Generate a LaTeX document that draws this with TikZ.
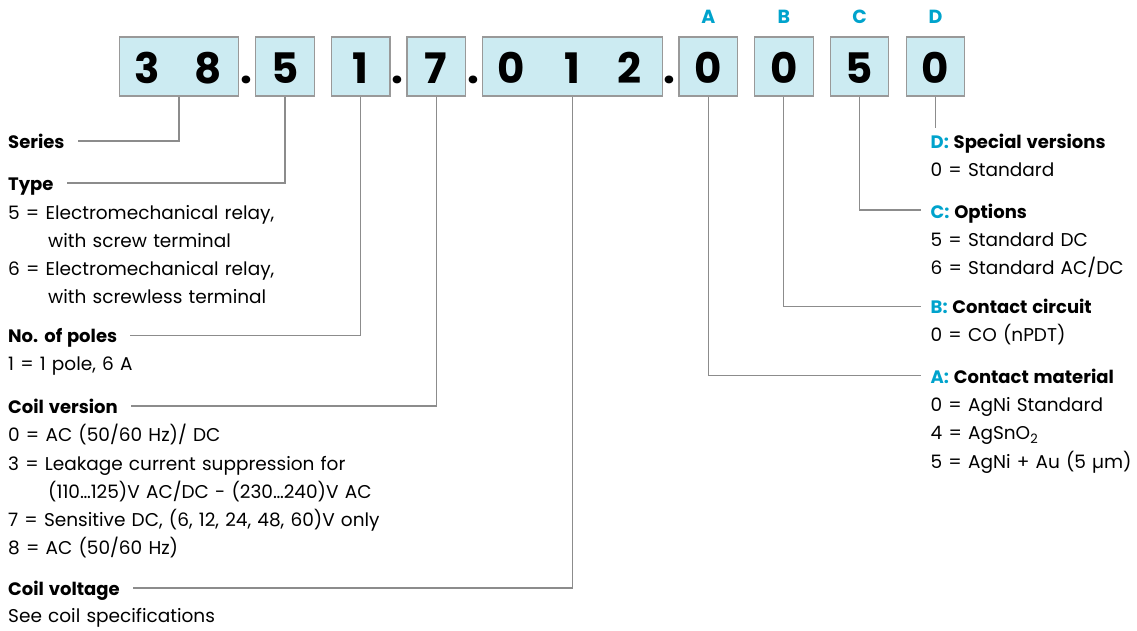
\documentclass[tikz,border=0pt]{standalone}
\usepackage{fontspec}
\setmainfont{Poppins}[Numbers=Monospaced, WordSpace=1.25]
\definecolor{boxfill}{HTML}{CCEBF2}
\definecolor{boxline}{HTML}{999999}
\definecolor{lead}{HTML}{8C8C8C}
\definecolor{keycyan}{HTML}{00A3CC}
\begin{document}
\begin{tikzpicture}[x=1pt,y=-1pt,
  codebox/.style={draw=boxline, fill=boxfill, line width=1.2pt, minimum height=59pt, inner sep=0pt},
  digit/.style={anchor=base, inner sep=0pt, font=\fontsize{42}{42}\selectfont\bfseries},
  keylet/.style={anchor=base, inner sep=0pt, text=keycyan, font=\fontsize{19}{19}\selectfont\bfseries},
  head/.style={anchor=base west, inner sep=0pt, font=\fontsize{18}{18}\selectfont\bfseries},
  body/.style={anchor=base west, inner sep=0pt, font=\fontsize{18.5}{18.5}\selectfont},
  leader/.style={draw=lead, line width=1.2pt}]
\useasboundingbox (0,0) rectangle (1137,630);
% boxes
\node[codebox, minimum width=119.4pt] (b1) at (179,66.5) {};
\node[codebox, minimum width=58.6pt] (b2) at (285,66.5) {};
\node[codebox, minimum width=58.6pt] (b3) at (360.7,66.5) {};
\node[codebox, minimum width=58.6pt] (b4) at (436.2,66.5) {};
\node[codebox, minimum width=180pt] (b5) at (572.3,66.5) {};
\node[codebox, minimum width=58.6pt] (bA) at (708.3,66.5) {};
\node[codebox, minimum width=58.6pt] (bB) at (783.8,66.5) {};
\node[codebox, minimum width=58.6pt] (bC) at (859.5,66.5) {};
\node[codebox, minimum width=58.6pt] (bD) at (935.5,66.5) {};
% digits
\node[digit] (d1) at (147,83) {3};
\node[digit] (d2) at (208,83) {8};
\node[digit] (d3) at (285,83) {5};
\node[digit] (d4) at (360.7,83) {1};
\node[digit] (d5) at (436.2,83) {7};
\node[digit] (d6) at (511,83) {0};
\node[digit] (d7) at (572.3,83) {1};
\node[digit] (d8) at (629,83) {2};
\node[digit] (d9) at (708.3,83) {0};
\node[digit] (d10) at (783.8,83) {0};
\node[digit] (d11) at (859.5,83) {5};
\node[digit] (d12) at (935.5,83) {0};
% dots
\node[digit] (p1) at (246,83) {.};
\node[digit] (p2) at (397.7,83) {.};
\node[digit] (p3) at (473.3,83) {.};
\node[digit] (p4) at (669.3,83) {.};
% key letters
\node[keylet] (kA) at (708.3,23) {A};
\node[keylet] (kB) at (783.8,23) {B};
\node[keylet] (kC) at (859.5,23) {C};
\node[keylet] (kD) at (935.5,23) {D};
% left texts
\node[head] (series) at (8,148) {Series};
\node[head] (type) at (8,190) {Type};
\node[body] (t5) at (8,219) {5 = Electromechanical relay,};
\node[body] (t5b) at (48,247) {with screw terminal};
\node[body] (t6) at (8,275) {6 = Electromechanical relay,};
\node[body] (t6b) at (48,303) {with screwless terminal};
\node[head] (poles) at (8,342.5) {No. of poles};
\node[body] (pl1) at (8,370.5) {1 = 1 pole, 6 A};
\node[head] (coilv) at (8,413) {Coil version};
\node[body] (cv0) at (8,441.5) {0 = AC (50/60 Hz)/ DC};
\node[body] (cv3) at (8,470) {3 = Leakage current suppression for};
\node[body] (cv3b) at (48,498) {(110…125)V AC/DC - (230…240)V AC};
\node[body] (cv7) at (8,526) {7 = Sensitive DC, (6, 12, 24, 48, 60)V only};
\node[body] (cv8) at (8,554) {8 = AC (50/60 Hz)};
\node[head] (coilvolt) at (8,595) {Coil voltage};
\node[body] (seecoil) at (8,622.5) {See coil specifications};
% right texts
\node[head] (hD) at (930.5,148.3) {\textcolor{keycyan}{D:} Special versions};
\node[body] (dz) at (930.5,176) {0 = Standard};
\node[head] (hC) at (930.5,218) {\textcolor{keycyan}{C:} Options};
\node[body] (c5) at (930.5,246.5) {5 = Standard DC};
\node[body] (c6) at (930.5,274.5) {6 = Standard AC/DC};
\node[head] (hB) at (930.5,313.5) {\textcolor{keycyan}{B:} Contact circuit};
\node[body] (bz) at (930.5,341) {0 = CO (nPDT)};
\node[head] (hA) at (930.5,383.5) {\textcolor{keycyan}{A:} Contact material};
\node[body] (a0) at (930.5,411) {0 = AgNi Standard};
\node[body] (a4) at (930.5,439.5) {4 = AgSnO\textsubscript{2}};
\node[body] (a5) at (930.5,468) {5 = AgNi + Au (5 µm)};
% leaders left
\draw[leader] (b1.south) |- ([shift={(13pt,7pt)}]series.base east);
\draw[leader] (b2.south) |- ([shift={(13pt,7pt)}]type.base east);
\draw[leader] (b3.south) |- ([shift={(13pt,7pt)}]poles.base east);
\draw[leader] (b4.south) |- ([shift={(13pt,7pt)}]coilv.base east);
\draw[leader] (b5.south) |- ([shift={(13pt,7pt)}]coilvolt.base east);
% leaders right
\coordinate (dEnd) at (935.5,128);
\draw[leader] (bD.south) -- (dEnd);
\draw[leader] (bC.south) |- ([shift={(-10pt,8pt)}]hC.base west);
\draw[leader] (bB.south) |- ([shift={(-10pt,7pt)}]hB.base west);
\draw[leader] (bA.south) |- ([shift={(-10pt,8pt)}]hA.base west);
\end{tikzpicture}
\end{document}
